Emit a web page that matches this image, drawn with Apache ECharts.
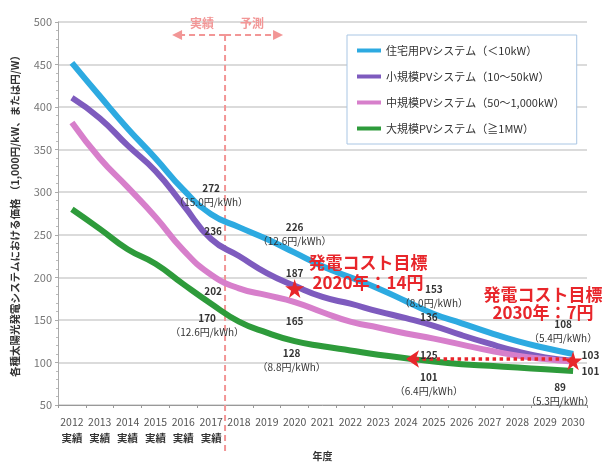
<!DOCTYPE html>
<html>
<head>
<meta charset="utf-8">
<script src="https://cdn.jsdelivr.net/npm/echarts@6/dist/echarts.min.js"></script>
<style>
  html, body { margin: 0; padding: 0; background: #fff; }
  #main { width: 603px; height: 466px; }
</style>
</head>
<body>
<div id="main"></div>
<script>
// 年度 2012-2030
const years = ["2012", "2013", "2014", "2015", "2016", "2017", "2018", "2019", "2020", "2021",
  "2022", "2023", "2024", "2025", "2026", "2027", "2028", "2029", "2030"];
const actualCount = 6; // 2012-2017 実績

const residential = [452, 413, 375, 340, 303, 274, 259, 245, 229, 213, 200, 187, 172, 157, 146, 135, 125, 117, 110];
const small = [411, 387, 355, 325, 285, 245, 225, 205, 190, 177, 169, 160, 152, 143, 132, 122, 113, 106, 102];
const medium = [382, 340, 306, 271, 232, 203, 187, 179, 171, 159, 148, 141, 134, 128, 121, 114, 108, 104, 101];
const large = [280, 257, 233, 216, 192, 169, 148, 135, 125, 119, 114, 109, 105, 101, 98, 96, 94, 92, 90];

const yTicks = [50, 100, 150, 200, 250, 300, 350, 400, 450, 500];

// [year, value label, cost label]
const residentialNotes = [["2017", "272", "（15.0円/kWh）"], ["2020", "226", "（12.6円/kWh）"],
  ["2025", "153", "（8.0円/kWh）"], ["2030", "108", "（5.4円/kWh）"]];
const smallNotes = [["2017", "236"], ["2020", "187"], ["2025", "136"], ["2030", "103"]];
const mediumNotes = [["2017", "202"], ["2020", "165"], ["2025", "125"], ["2030", "101"]];
const largeNotes = [["2017", "170", "（12.6円/kWh）"], ["2020", "128", "（8.8円/kWh）"],
  ["2025", "101", "（6.4円/kWh）"], ["2030", "89", "（5.3円/kWh）"]];

const targets = [["2020", 187], ["2030", 102]];
const arrowFrom = ["2030", 104];
const arrowTo = ["2024", 104];

const FONT = "Noto Sans CJK JP";
const RED = "#E8262B";
const STAR = "path://M50,0 L61,35 L98,35 L68,57 L79,91 L50,70 L21,91 L32,57 L2,35 L39,35 Z";

function notePoints(notes, values, place) {
  return notes.map(function (n, i) {
    const idx = years.indexOf(n[0]);
    const p = place[i];
    return {
      coord: [n[0], values[idx]],
      label: {
        show: true,
        position: p[0],
        distance: p[1],
        offset: p[2] || [0, 0],
        formatter: n[2] ? "{v|" + n[1] + "}\n{u|" + n[2] + "}" : "{v|" + n[1] + "}",
      },
    };
  });
}

const noteLabel = {
  fontFamily: FONT,
  color: "#333",
  rich: {
    v: { fontSize: 10, fontWeight: "bold", color: "#333", lineHeight: 14, fontFamily: FONT },
    u: { fontSize: 10, color: "#333", lineHeight: 14, fontFamily: FONT },
  },
};

function lineSeries(name, values, color, marks) {
  return {
    name: name,
    type: "line",
    data: values,
    smooth: true,
    showSymbol: false,
    lineStyle: { width: 6, color: color },
    itemStyle: { color: color },
    z: 3,
    markPoint: {
      silent: true,
      symbol: "circle",
      symbolSize: 1,
      itemStyle: { color: "rgba(0,0,0,0)" },
      label: noteLabel,
      data: marks,
    },
  };
}

let chart = echarts.init(document.getElementById("main"));

let series = [
  lineSeries("住宅用PVシステム（＜10kW）", residential, "#2DAAE1",
    notePoints(residentialNotes, residential, [["top", 5], ["top", 4], ["top", 3], ["top", 8, [-10, 0]]])),
  lineSeries("小規模PVシステム（10～50kW）", small, "#7E5BBE",
    notePoints(smallNotes, small, [["top", 0, [2, 0]], ["top", 5], ["top", 1, [-5, 0]], ["right", 8, [0, -6]]])),
  lineSeries("中規模PVシステム（50～1,000kW）", medium, "#D77FCB",
    notePoints(mediumNotes, medium, [["bottom", 9, [2, 0]], ["bottom", 12], ["bottom", 9, [-5, 0]], ["right", 8, [0, 10]]])),
  lineSeries("大規模PVシステム（≧1MW）", large, "#2E9B3B",
    notePoints(largeNotes, large, [["bottom", 7, [-4, 0]], ["bottom", 5, [-3, 0]], ["bottom", 8, [-5, 0]], ["bottom", 9, [-13, 0]]])),
];

// 目標の星と点線矢印
series[1].markPoint.data = series[1].markPoint.data.concat(targets.map(function (t) {
  return {
    coord: t,
    symbol: STAR,
    symbolSize: 19,
    itemStyle: { color: RED },
    label: { show: false },
  };
}));
series[1].markLine = {
  silent: true,
  symbol: ["none", "arrow"],
  symbolSize: 13,
  label: { show: false },
  lineStyle: { color: RED, type: "dotted", width: 3.5 },
  data: [[{ coord: arrowFrom }, { coord: arrowTo }]],
};

let option = {
  animation: false,
  backgroundColor: "#fff",
  textStyle: { fontFamily: FONT },
  grid: { left: 58, right: 16, top: 22, bottom: 55 },
  legend: {
    orient: "vertical",
    left: 347,
    top: 35,
    padding: [8, 12, 8, 10],
    itemGap: 11,
    itemWidth: 24,
    itemHeight: 4,
    icon: "rect",
    backgroundColor: "#fff",
    borderColor: "#A9C6E4",
    borderWidth: 1,
    textStyle: { fontSize: 11, color: "#333", fontFamily: FONT, lineHeight: 15 },
  },
  xAxis: {
    type: "category",
    data: years,
    name: "年度",
    nameLocation: "middle",
    nameGap: 46,
    nameTextStyle: { fontSize: 10, fontWeight: "bold", color: "#333" },
    axisLine: { lineStyle: { color: "#999" } },
    axisTick: { show: true, lineStyle: { color: "#999" }, length: 3 },
    axisLabel: {
      interval: 0,
      hideOverlap: false,
      margin: 9,
      fontSize: 10.5,
      color: "#555",
      lineHeight: 16,
      formatter: function (v, i) {
        return i < actualCount ? v + "\n{b|実績}" : v;
      },
      rich: { b: { fontSize: 10.5, fontWeight: "bold", color: "#333", lineHeight: 16 } },
    },
  },
  yAxis: {
    type: "value",
    min: yTicks[0],
    max: yTicks[yTicks.length - 1],
    interval: yTicks[1] - yTicks[0],
    name: "各種太陽光発電システムにおける価格 （1,000円/kW、または円/W）",
    nameLocation: "middle",
    nameGap: 38,
    nameTextStyle: { fontSize: 10.5, fontWeight: "bold", color: "#333" },
    axisLine: { show: true, lineStyle: { color: "#aaa" } },
    axisTick: { show: true, length: 3, lineStyle: { color: "#aaa" } },
    minorTick: { show: true, splitNumber: 5, length: 2, lineStyle: { color: "#bbb" } },
    axisLabel: { fontSize: 11, color: "#777", margin: 6 },
    splitLine: { lineStyle: { color: "#CFCFCF", width: 1.5 } },
  },
  series: series,
};

chart.setOption(option);

// 実績 / 予測 の区切り線 (2017 と 2018 の間)
const xa = chart.convertToPixel({ xAxisIndex: 0 }, "2017");
const xb = chart.convertToPixel({ xAxisIndex: 0 }, "2018");
const div = (xa + xb) / 2;
const pink = "#F29696";
const arrowY = 35;

chart.setOption({
  graphic: [
    { type: "line", z: 1, shape: { x1: div, y1: arrowY, x2: div, y2: 452 },
      style: { stroke: pink, lineWidth: 2, lineDash: [6, 4] } },
    { type: "line", shape: { x1: div, y1: arrowY, x2: div - 46, y2: arrowY },
      style: { stroke: pink, lineWidth: 2, lineDash: [6, 4] } },
    { type: "line", shape: { x1: div, y1: arrowY, x2: div + 50, y2: arrowY },
      style: { stroke: pink, lineWidth: 2, lineDash: [6, 4] } },
    { type: "polygon", shape: { points: [[div - 53, arrowY], [div - 43, arrowY - 5], [div - 43, arrowY + 5]] },
      style: { fill: pink } },
    { type: "polygon", shape: { points: [[div + 58, arrowY], [div + 48, arrowY - 5], [div + 48, arrowY + 5]] },
      style: { fill: pink } },
    { type: "text", x: div - 23, y: 23,
      style: { text: "実績", fill: pink, font: "bold 12px " + FONT, textAlign: "center", textVerticalAlign: "middle" } },
    { type: "text", x: div + 27, y: 23,
      style: { text: "予測", fill: pink, font: "bold 12px " + FONT, textAlign: "center", textVerticalAlign: "middle" } },
    { type: "text", x: 368, y: 273, z: 10,
      style: { text: "発電コスト目標\n2020年：14円", fill: RED, font: "bold 17px " + FONT,
        lineHeight: 20, textAlign: "center", textVerticalAlign: "middle" } },
    { type: "text", x: 543, y: 304, z: 10,
      style: { text: "発電コスト目標\n2030年：7円", fill: RED, font: "bold 17px " + FONT,
        lineHeight: 18, textAlign: "center", textVerticalAlign: "middle" } },
  ],
});
</script>
</body>
</html>
